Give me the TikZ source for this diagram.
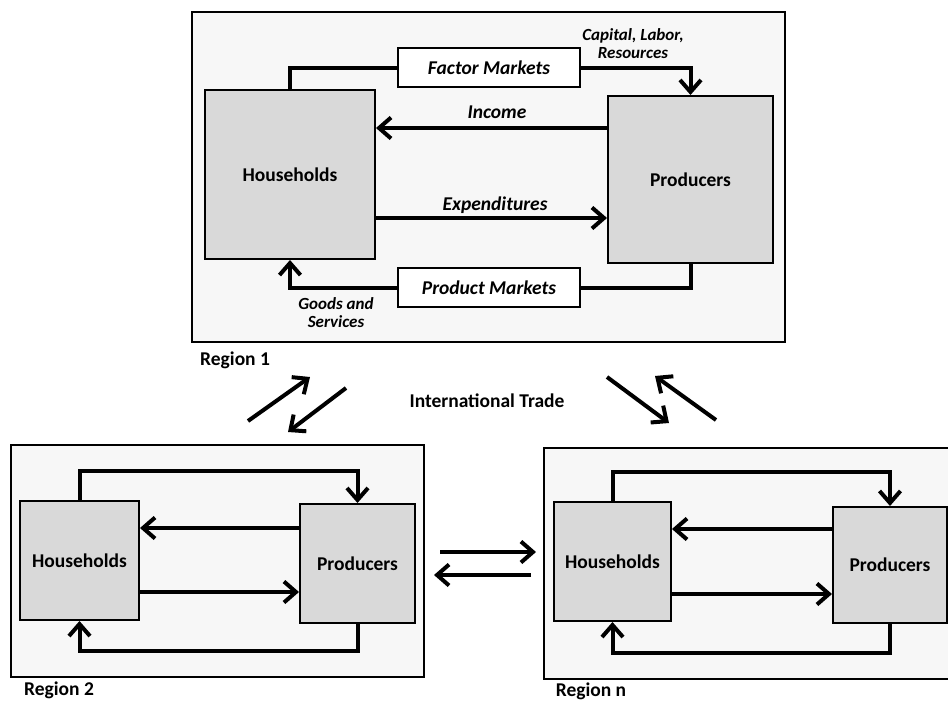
\documentclass[tikz,border=0pt]{standalone}
\usepackage{fontspec}
\setmainfont{Carlito}
\usetikzlibrary{arrows.meta}
\definecolor{regfill}{HTML}{F7F7F7}
\definecolor{agentfill}{HTML}{D9D9D9}
\tikzset{
  regionbox/.style={draw=black, line width=2pt, fill=regfill, inner sep=0pt},
  agent/.style={draw=black, line width=2pt, fill=agentfill, inner sep=0pt, font=\fontsize{19.5}{22}\selectfont\bfseries},
  market/.style={draw=black, line width=2pt, fill=white, inner sep=0pt, font=\fontsize{19.5}{22}\selectfont\bfseries\itshape},
  flow/.style={line width=4pt},
  arr/.style={-{Straight Barb[length=12pt,width=21pt]}},
  flowlabel/.style={font=\fontsize{19.5}{22}\selectfont\bfseries\itshape},
  smalllabel/.style={font=\fontsize{17}{18}\selectfont\bfseries\itshape, align=center},
  reglabel/.style={font=\fontsize{19.5}{22}\selectfont\bfseries, inner sep=1pt},
}
\begin{document}
\begin{tikzpicture}[x=1pt,y=-1pt]
\useasboundingbox (0,0) rectangle (948,702);

% ---------- Region 1 ----------
\node[regionbox, minimum width=593pt, minimum height=330pt] (r1) at (488.5,177) {};
\node[agent, minimum width=170pt, minimum height=169pt] (h1) at (290,174.5) {Households};
\node[agent, minimum width=165pt, minimum height=167pt] (p1) at (690.5,179.5) {Producers};
\node[market, minimum width=182pt, minimum height=39pt] (fm) at (489,67.5) {Factor Markets};
\node[market, minimum width=182pt, minimum height=39pt] (pm) at (489,287.5) {Product Markets};

\draw[flow] (h1.north) |- (fm.west);
\draw[flow,arr] (fm.east) -| (p1.north);
\draw[flow,arr] (p1.west |- 0,128) -- (h1.east |- 0,128);
\draw[flow,arr] (h1.east |- 0,218) -- (p1.west |- 0,218);
\draw[flow] (p1.south) |- (pm.east);
\draw[flow,arr] (pm.west) -| (h1.south);

\node[flowlabel] (inc) at (497,112) {Income};
\node[flowlabel] (exp) at (495,205) {Expenditures};
\node[smalllabel] (cap) at (633,44) {Capital, Labor,\\Resources};
\node[smalllabel] (gs) at (336,313) {Goods and\\Services};
\node[reglabel, anchor=west] (rl1) at (199,360) {Region 1};

% ---------- International trade ----------
\node[reglabel] (it) at (487,401) {International Trade};
\coordinate (a1s) at (248,421); \coordinate (a1e) at (310,377);
\coordinate (a2s) at (346,388); \coordinate (a2e) at (288,432);
\coordinate (a3s) at (607,377); \coordinate (a3e) at (669,423);
\coordinate (a4s) at (716,420); \coordinate (a4e) at (655,376);
\draw[flow,arr] (a1s) -- (a1e);
\draw[flow,arr] (a2s) -- (a2e);
\draw[flow,arr] (a3s) -- (a3e);
\draw[flow,arr] (a4s) -- (a4e);

% ---------- Region 2 ----------
\node[regionbox, minimum width=413pt, minimum height=232pt] (r2) at (217.5,561) {};
\node[agent, minimum width=119pt, minimum height=119pt] (h2) at (79.5,560.5) {Households};
\node[agent, minimum width=115pt, minimum height=119pt] (p2) at (357.5,563.5) {Producers};
\draw[flow,arr] (h2.north) -- (h2.north |- 0,471) -| (p2.north);
\draw[flow,arr] (p2.west |- 0,528) -- (h2.east |- 0,528);
\draw[flow,arr] (h2.east |- 0,592) -- (p2.west |- 0,592);
\draw[flow,arr] (p2.south) -- (p2.south |- 0,651) -| (h2.south);
\node[reglabel] (rl2) at (59,690) {Region 2};

% ---------- Between region 2 and n ----------
\coordinate (b1s) at (440,552); \coordinate (b1e) at (536,552);
\coordinate (b2s) at (531,575); \coordinate (b2e) at (434,575);
\draw[flow,arr] (b1s) -- (b1e);
\draw[flow,arr] (b2s) -- (b2e);

% ---------- Region n ----------
\node[regionbox, minimum width=414pt, minimum height=231pt] (rn) at (751,563.5) {};
\node[agent, minimum width=117pt, minimum height=119pt] (hn) at (612.5,561.5) {Households};
\node[agent, minimum width=114pt, minimum height=116pt] (pn) at (890,565) {Producers};
\draw[flow,arr] (hn.north) -- (hn.north |- 0,472) -| (pn.north);
\draw[flow,arr] (pn.west |- 0,529) -- (hn.east |- 0,529);
\draw[flow,arr] (hn.east |- 0,594) -- (pn.west |- 0,594);
\draw[flow,arr] (pn.south) -- (pn.south |- 0,653) -| (hn.south);
\node[reglabel] (rln) at (591,691) {Region n};
\end{tikzpicture}
\end{document}
